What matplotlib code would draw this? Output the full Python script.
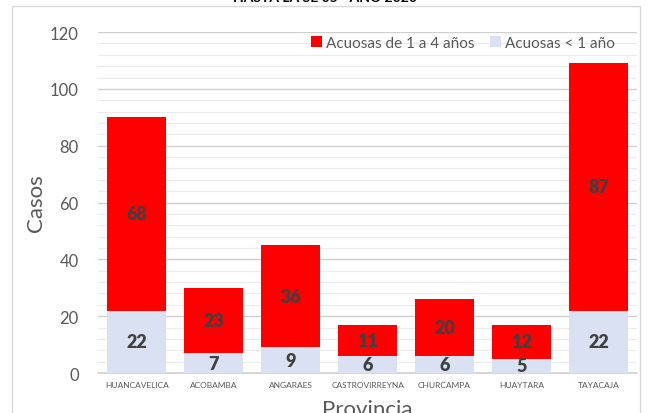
import matplotlib
matplotlib.use("Agg")
import matplotlib.pyplot as plt
import numpy as np
from matplotlib.ticker import MultipleLocator
from matplotlib.patches import Rectangle

# datos por provincia
provincias = ["HUANCAVELICA", "ACOBAMBA", "ANGARAES", "CASTROVIRREYNA",
              "CHURCAMPA", "HUAYTARA", "TAYACAJA"]
menor_1 = [22, 7, 9, 6, 6, 5, 22]
de_1_a_4 = [68, 23, 36, 11, 20, 12, 87]

plt.rcParams['font.family'] = ['Lato', 'DejaVu Sans']

fig = plt.figure(figsize=(6.5, 4.14), dpi=100)
ax = fig.add_axes([0.151, 0.0966, 0.829, 0.8234])

# borde del area del grafico
fig.patches.append(Rectangle((12 / 650, -0.1), (640 - 12) / 650, 1.1 - 7 / 414,
                             transform=fig.transFigure, fill=False,
                             edgecolor="#d9d9d9", linewidth=1.0))

# titulo (cortado arriba, como en la imagen original)
fig.text(0.5, 1.0 - 4 / 414, "HASTA LA SE 05 - AÑO 2020", ha="center",
         va="bottom", fontsize=10, fontweight="bold", color="black")

x = np.arange(len(provincias))
w = 0.77
b1 = ax.bar(x, menor_1, w, color="#D9E1F2", label="Acuosas < 1 año", zorder=3)
b2 = ax.bar(x, de_1_a_4, w, bottom=menor_1, color="#FF0000",
            label="Acuosas de 1 a 4 años", zorder=3)

for i in range(len(provincias)):
    ax.text(x[i], menor_1[i] / 2, str(menor_1[i]), ha="center", va="center",
            fontsize=13, fontweight="heavy", color="#404040", zorder=4)
    ax.text(x[i], menor_1[i] + de_1_a_4[i] / 2, str(de_1_a_4[i]), ha="center",
            va="center", fontsize=13, fontweight="heavy", color="#404040", zorder=4)

ax.set_xlim(-0.5, len(provincias) - 0.5)
ax.set_ylim(0, 120)
ax.yaxis.set_major_locator(MultipleLocator(20))
ax.yaxis.set_minor_locator(MultipleLocator(4))
ax.grid(axis="y", which="major", color="#d0d0d0", linewidth=1.0, zorder=0)
ax.grid(axis="y", which="minor", color="#ebebeb", linewidth=0.8, zorder=0)
ax.set_axisbelow(True)

for s in ["top", "right", "left"]:
    ax.spines[s].set_visible(False)
ax.spines["bottom"].set_color("#d0d0d0")
ax.spines["bottom"].set_linewidth(1.2)

ax.set_xticks(x)
ax.set_xticklabels(provincias, fontsize=6, color="#595959")
ax.tick_params(axis="both", which="both", length=0)
ax.tick_params(axis="y", labelsize=12, labelcolor="#595959", pad=14)
ax.tick_params(axis="x", pad=6)

ax.set_ylabel("Casos", fontsize=16, color="#595959", labelpad=3)
ax.set_xlabel("Provincia", fontsize=16, color="#595959", labelpad=8)

handles = [b2, b1]
ax.legend(handles, [h.get_label() for h in handles], loc="upper right",
          ncol=2, frameon=False, fontsize=11, handlelength=0.7,
          handleheight=0.7, handletextpad=0.3, columnspacing=1.0,
          labelcolor="#595959", bbox_to_anchor=(0.985, 1.03))

fig.savefig("out.png", dpi=100)
